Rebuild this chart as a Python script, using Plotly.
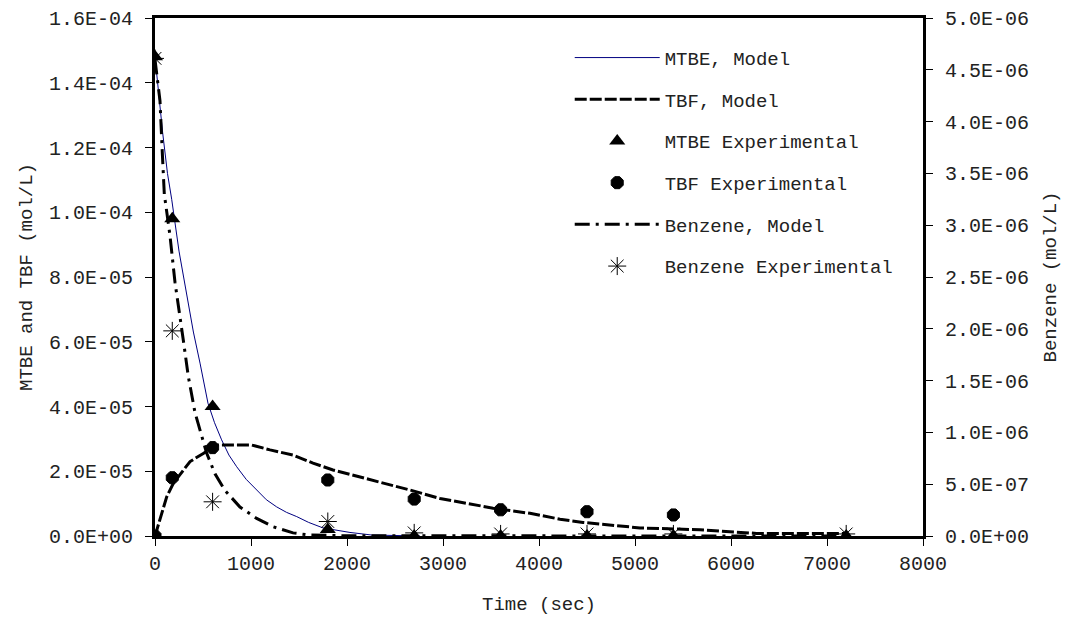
import plotly.graph_objects as go

# ---------------- data ----------------
exp_time = [0, 180, 600, 1800, 2700, 3600, 4500, 5400, 7200]
mtbe_exp = [1.48e-4, 9.8e-5, 4.0e-5, 2.0e-6, 0, 0, 0, 0, 0]
benz_exp = [4.61e-6, 1.98e-6, 3.3e-7, 1.4e-7, 3e-8, 2e-8, 2e-8, 2e-8, 2e-8]

tbf_exp_time = [0, 180, 600, 1800, 2700, 3600, 4500, 5400]
tbf_exp = [0, 1.80e-5, 2.73e-5, 1.73e-5, 1.14e-5, 0.81e-5, 0.75e-5, 0.65e-5]

mtbe_model_t = [0, 40, 80, 130, 174, 250, 312, 400, 469, 552, 620, 694, 770, 851,
                950, 1059, 1160, 1267, 1370, 1476, 1600, 1750, 1900, 2031, 2257, 2500, 2760]
mtbe_model = [1.48e-4, 1.36e-4, 1.245e-4, 1.12e-4, 1.04e-4, 8.8e-5, 7.8e-5, 6.3e-5, 5.34e-5,
              4.1e-5, 3.5e-5, 2.97e-5, 2.5e-5, 2.14e-5, 1.75e-5, 1.42e-5, 1.12e-5, 0.90e-5,
              0.73e-5, 0.60e-5, 0.42e-5, 0.25e-5, 0.17e-5, 0.11e-5, 0.03e-5, 0.01e-5, 0]

tbf_model_t = [0, 52, 122, 191, 280, 365, 503, 642, 1007, 1198, 1438, 1646, 1854, 2135,
               2375, 2656, 2969, 3247, 3521, 3906, 4219, 4458, 4740, 5052, 5677, 6267, 7200]
tbf_model = [0, 0.49e-5, 1.21e-5, 1.63e-5, 1.98e-5, 2.30e-5, 2.55e-5, 2.81e-5, 2.81e-5,
             2.66e-5, 2.50e-5, 2.25e-5, 2.04e-5, 1.83e-5, 1.63e-5, 1.42e-5, 1.16e-5,
             1.01e-5, 0.86e-5, 0.70e-5, 0.52e-5, 0.42e-5, 0.33e-5, 0.25e-5, 0.19e-5,
             0.08e-5, 0.08e-5]

benz_model_t = [0, 52, 76, 97, 156, 208, 295, 347, 417, 486, 538, 625, 729, 885,
                1059, 1229, 1438, 1600, 1800, 2000, 7200]
benz_model = [4.6e-6, 4.2e-6, 3.7e-6, 3.3e-6, 2.9e-6, 2.45e-6, 1.89e-6, 1.54e-6, 1.19e-6,
              9.6e-7, 8.0e-7, 6.0e-7, 4.4e-7, 2.8e-7, 1.7e-7, 0.9e-7, 0.3e-7, 0.1e-7,
              0.05e-7, 0.02e-7, 0]

x_ticks = [0, 1000, 2000, 3000, 4000, 5000, 6000, 7000, 8000]
left_ticks = [0, 2e-5, 4e-5, 6e-5, 8e-5, 1e-4, 1.2e-4, 1.4e-4, 1.6e-4]
left_ticktext = ["0.0E+00", "2.0E-05", "4.0E-05", "6.0E-05", "8.0E-05",
                 "1.0E-04", "1.2E-04", "1.4E-04", "1.6E-04"]
right_ticks = [0, 5e-7, 1e-6, 1.5e-6, 2e-6, 2.5e-6, 3e-6, 3.5e-6, 4e-6, 4.5e-6, 5e-6]
right_ticktext = ["0.0E+00", "5.0E-07", "1.0E-06", "1.5E-06", "2.0E-06", "2.5E-06",
                  "3.0E-06", "3.5E-06", "4.0E-06", "4.5E-06", "5.0E-06"]

FONT = "Liberation Mono, Courier New, monospace"
TXT = "#222"

fig = go.Figure()

fig.add_trace(go.Scatter(x=mtbe_model_t, y=mtbe_model, mode="lines", name="MTBE, Model",
                         line=dict(color="#000080", width=1), legendgroup="a"))
fig.add_trace(go.Scatter(x=tbf_model_t, y=tbf_model, mode="lines", name="TBF, Model",
                         line=dict(color="black", width=3, dash="12px,3px"), legendgroup="b"))
fig.add_trace(go.Scatter(x=exp_time, y=mtbe_exp, mode="markers", name="MTBE Experimental",
                         marker=dict(symbol="triangle-up", size=14, color="black"), legendgroup="c"))
fig.add_trace(go.Scatter(x=tbf_exp_time, y=tbf_exp, mode="markers", name="TBF Experimental",
                         marker=dict(symbol="octagon", size=13, color="black",
                                     line=dict(color="black", width=1)), legendgroup="d"))
fig.add_trace(go.Scatter(x=benz_model_t, y=benz_model, mode="lines", name="Benzene, Model",
                         line=dict(color="black", width=3, dash="longdashdot"),
                         yaxis="y2", legendgroup="e"))
fig.add_trace(go.Scatter(x=exp_time, y=benz_exp, mode="markers", name="Benzene Experimental",
                         marker=dict(symbol="asterisk-open", size=15, color="black",
                                     line=dict(color="black", width=1)),
                         yaxis="y2", legendgroup="f"))

axis_common = dict(showline=True, linecolor="black", linewidth=3, ticks="outside",
                   ticklen=7, tickwidth=1, tickcolor="black", showgrid=False, zeroline=False,
                   automargin=False,
                   tickfont=dict(family=FONT, size=20, color=TXT))

# the page body adds an 8px offset, so the figure is sized to fit inside 1070x630
fig.update_layout(
    width=1062, height=622,
    paper_bgcolor="white", plot_bgcolor="white",
    margin=dict(l=147, r=147, t=10, b=94),
    font=dict(family=FONT, size=19, color=TXT),
    xaxis=dict(range=[0, 8000], tickvals=x_ticks, mirror=True, ticklabelstandoff=0,
               title=dict(text="Time (sec)", standoff=22, font=dict(family=FONT, size=19)),
               **axis_common),
    yaxis=dict(range=[0, 1.6e-4], tickvals=left_ticks, ticktext=left_ticktext,
               ticklabelstandoff=8,
               title=dict(text="MTBE and TBF (mol/L)", standoff=12,
                          font=dict(family=FONT, size=19)),
               **axis_common),
    yaxis2=dict(range=[0, 5e-6], tickvals=right_ticks, ticktext=right_ticktext,
                overlaying="y", side="right", ticklabelstandoff=8,
                title=dict(text="Benzene (mol/L)", standoff=15,
                           font=dict(family=FONT, size=19)),
                **axis_common),
    legend=dict(x=0.54, y=0.96, xanchor="left", yanchor="top",
                bgcolor="rgba(0,0,0,0)", itemwidth=85, tracegroupgap=14,
                font=dict(family=FONT, size=19, color=TXT)),
    showlegend=True,
)

fig.write_html("out.html")
